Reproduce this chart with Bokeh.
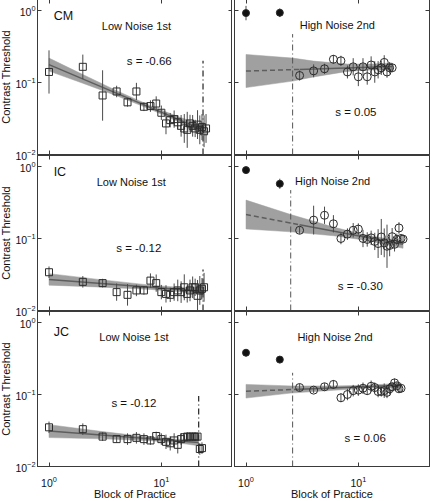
import numpy as np
from bokeh.plotting import figure
from bokeh.layouts import column, row
from bokeh.models import (ColumnDataSource, LogAxis, Range1d, Label,
                          CustomJSTickFormatter, FixedTicker, LogTickFormatter)
from bokeh.embed import file_html
from bokeh.resources import INLINE

FONT = "Liberation Sans"

# ---------------- data ----------------
X_LIM = (0.79, 43.0)
Y_LIM = (0.01, 1.42)
X_TICKS = [1, 10]
Y_TICKS = [0.01, 0.1, 1]

subjects = ["CM", "IC", "JC"]
slope_low = ["s = -0.66", "s = -0.12", "s = -0.12"]
slope_high = ["s = 0.05", "s = -0.30", "s = 0.06"]

# Low noise (first) -- squares
cm_low_block = list(range(1, 26))
cm_low_thr = [0.14, 0.165, 0.066, 0.075, 0.053, 0.075, 0.046, 0.047, 0.051, 0.038,
              0.027, 0.030, 0.031, 0.028, 0.025, 0.023, 0.022, 0.027, 0.025, 0.023,
              0.026, 0.022, 0.024, 0.021, 0.023]
cm_low_err = [0.30, 0.17, 0.35, 0.08, 0.06, 0.12, 0.06, 0.08, 0.10, 0.10,
              0.15, 0.10, 0.12, 0.10, 0.15, 0.20, 0.25, 0.12, 0.15, 0.12,
              0.20, 0.20, 0.18, 0.22, 0.20]

ic_low_block = list(range(1, 25))
ic_low_thr = [0.034, 0.025, 0.024, 0.018, 0.0165, 0.019, 0.019, 0.026, 0.024, 0.018,
              0.017, 0.0165, 0.018, 0.019, 0.018, 0.021, 0.017, 0.019, 0.021, 0.021,
              0.016, 0.019, 0.020, 0.021]
ic_low_err = [0.08, 0.08, 0.06, 0.12, 0.15, 0.08, 0.06, 0.10, 0.12, 0.10,
              0.12, 0.10, 0.12, 0.15, 0.15, 0.18, 0.12, 0.15, 0.15, 0.12,
              0.22, 0.20, 0.15, 0.20]

jc_low_block = list(range(1, 24))
jc_low_thr = [0.035, 0.033, 0.026, 0.024, 0.024, 0.025, 0.024, 0.023, 0.0265, 0.024,
              0.022, 0.021, 0.023, 0.020, 0.024, 0.0255, 0.026, 0.026, 0.026, 0.026,
              0.026, 0.0175, 0.018]
jc_low_err = [0.08, 0.08, 0.06, 0.05, 0.08, 0.08, 0.08, 0.06, 0.06, 0.08,
              0.10, 0.10, 0.10, 0.12, 0.08, 0.06, 0.06, 0.05, 0.05, 0.05,
              0.05, 0.08, 0.08]

# High noise (second) -- open circles, plus filled pre-test points
cm_high_block = list(range(3, 21))
cm_high_thr = [0.125, 0.145, 0.155, 0.21, 0.20, 0.14, 0.165, 0.12, 0.165, 0.12,
               0.175, 0.14, 0.15, 0.16, 0.19, 0.14, 0.16, 0.16]
cm_high_err = [0.07, 0.09, 0.07, 0.06, 0.07, 0.09, 0.12, 0.13, 0.12, 0.11,
               0.12, 0.15, 0.12, 0.10, 0.10, 0.08, 0.08, 0.06]

ic_high_block = list(range(3, 26))
ic_high_thr = [0.13, 0.18, 0.21, 0.16, 0.10, 0.115, 0.13, 0.135, 0.10, 0.097,
               0.102, 0.091, 0.085, 0.105, 0.087, 0.078, 0.080, 0.106, 0.083, 0.097,
               0.14, 0.10, 0.098]
ic_high_err = [0.05, 0.20, 0.12, 0.12, 0.08, 0.08, 0.10, 0.08, 0.12, 0.10,
               0.10, 0.12, 0.20, 0.25, 0.20, 0.30, 0.15, 0.12, 0.10, 0.08,
               0.08, 0.05, 0.05]

jc_high_block = list(range(3, 25))
jc_high_thr = [0.125, 0.115, 0.128, 0.138, 0.090, 0.100, 0.113, 0.115, 0.122, 0.113,
               0.130, 0.125, 0.110, 0.110, 0.113, 0.107, 0.120, 0.128, 0.145, 0.132,
               0.120, 0.122]
jc_high_err = [0.05, 0.04, 0.05, 0.06, 0.06, 0.08, 0.08, 0.08, 0.08, 0.06,
               0.08, 0.07, 0.08, 0.07, 0.10, 0.08, 0.08, 0.06, 0.06, 0.05,
               0.05, 0.05]

pre_block = [1, 2]
cm_pre_thr = [0.92, 0.93]
cm_pre_err = [0.10, 0.06]
ic_pre_thr = [0.89, 0.575]
ic_pre_err = [0.03, 0.07]
jc_pre_thr = [0.38, 0.305]
jc_pre_err = [0.05, 0.05]

# fitted power-function lines (x, y); high-noise: first segment is dashed
cm_low_fit_x = [1, 23.5]
cm_low_fit_y = [0.177, 0.022]
ic_low_fit_x = [1, 23.5]
ic_low_fit_y = [0.027, 0.0185]
jc_low_fit_x = [1, 21.5]
jc_low_fit_y = [0.031, 0.0215]
cm_high_fit_x = [1, 3, 20]
cm_high_fit_y = [0.144, 0.152, 0.167]
ic_high_fit_x = [1, 3, 25]
ic_high_fit_y = [0.215, 0.155, 0.083]
jc_high_fit_x = [1, 3, 24]
jc_high_fit_y = [0.111, 0.118, 0.134]

# confidence bands
cm_low_band_x = [1, 2, 4, 8, 14, 23.5]
cm_low_band_hi = [0.218, 0.129, 0.0769, 0.0476, 0.0337, 0.0253]
cm_low_band_lo = [0.144, 0.0976, 0.0654, 0.0424, 0.0287, 0.0192]
ic_low_band_x = [1, 3, 8, 14, 23.5]
ic_low_band_hi = [0.0325, 0.0266, 0.0225, 0.0211, 0.0208]
ic_low_band_lo = [0.0225, 0.0211, 0.0196, 0.0184, 0.0165]
jc_low_band_x = [1, 3, 8, 14, 21.5]
jc_low_band_hi = [0.0381, 0.0305, 0.0255, 0.0239, 0.0238]
jc_low_band_lo = [0.0252, 0.0242, 0.0228, 0.0213, 0.0194]
cm_high_band_x = [1, 2.6, 4, 8, 13, 20]
cm_high_band_hi = [0.245, 0.218, 0.198, 0.180, 0.180, 0.187]
cm_high_band_lo = [0.085, 0.1045, 0.1196, 0.1426, 0.1496, 0.1488]
ic_high_band_x = [1, 2.5, 6, 12, 25]
ic_high_band_hi = [0.341, 0.215, 0.144, 0.110, 0.0919]
ic_high_band_lo = [0.1357, 0.1237, 0.1092, 0.0939, 0.0730]
jc_high_band_x = [1, 2.5, 6, 12, 24]
jc_high_band_hi = [0.138, 0.1315, 0.1314, 0.1339, 0.1437]
jc_high_band_lo = [0.0892, 0.1045, 0.1144, 0.1222, 0.125]

# phase-change markers (x, top of line)
low_switch_x = [23.5, 23.5, 21.5]
low_switch_top = [0.20, 0.037, 0.095]
high_switch_x = [2.6, 2.5, 2.6]
high_switch_top = [0.47, 0.47, 0.20]

# text positions (data coords)
name_pos = [(1.1, 0.85), (1.1, 0.83), (1.1, 0.74)]
low_title_pos = [(6.0, 0.60), (5.4, 0.60), (5.7, 0.62)]
low_s_pos = [(7.8, 0.196), (6.3, 0.073), (5.7, 0.077)]
high_title_pos = [(6.5, 0.62), (5.9, 0.62), (6.2, 0.62)]
high_s_pos = [(9.5, 0.039), (10.4, 0.022), (11.5, 0.025)]

LOW = [
    (cm_low_block, cm_low_thr, cm_low_err, cm_low_fit_x, cm_low_fit_y,
     cm_low_band_x, cm_low_band_lo, cm_low_band_hi),
    (ic_low_block, ic_low_thr, ic_low_err, ic_low_fit_x, ic_low_fit_y,
     ic_low_band_x, ic_low_band_lo, ic_low_band_hi),
    (jc_low_block, jc_low_thr, jc_low_err, jc_low_fit_x, jc_low_fit_y,
     jc_low_band_x, jc_low_band_lo, jc_low_band_hi),
]
HIGH = [
    (cm_high_block, cm_high_thr, cm_high_err, cm_high_fit_x, cm_high_fit_y,
     cm_high_band_x, cm_high_band_lo, cm_high_band_hi, cm_pre_thr, cm_pre_err),
    (ic_high_block, ic_high_thr, ic_high_err, ic_high_fit_x, ic_high_fit_y,
     ic_high_band_x, ic_high_band_lo, ic_high_band_hi, ic_pre_thr, ic_pre_err),
    (jc_high_block, jc_high_thr, jc_high_err, jc_high_fit_x, jc_high_fit_y,
     jc_high_band_x, jc_high_band_lo, jc_high_band_hi, jc_pre_thr, jc_pre_err),
]

# ---------------- styling ----------------
AX = "#3a3a3a"
BAND = "#a0a0a0"
FIT = "#5e5e5e"
MARK = "#2b2b2b"
ERR = "#4a4a4a"

FRAME_W, FRAME_H = 195, 155
OVERLAP = 15   # rows overlap so tick labels at row joins are not clipped


def blank_fmt():
    return CustomJSTickFormatter(code="return '';")


def style_axis(ax, show_labels):
    ax.axis_line_color = AX
    ax.major_tick_line_color = AX
    ax.major_tick_in = 4
    ax.major_tick_out = 0
    ax.minor_tick_line_color = None
    if show_labels:
        ax.formatter = LogTickFormatter()
        ax.major_label_text_font = FONT
        ax.major_label_text_font_size = "10.5px"
        ax.major_label_text_color = "#111"
        ax.axis_label_text_font = FONT
        ax.axis_label_text_font_size = "11px"
        ax.axis_label_text_font_style = "normal"
        ax.axis_label_text_color = "#111"
    else:
        ax.formatter = blank_fmt()
        ax.major_label_text_font_size = "1px"
        ax.major_label_standoff = 0


def make_panel(r, left_col):
    bottom = (r == 2)
    p = figure(x_axis_type="log", y_axis_type="log",
               x_range=Range1d(*X_LIM), y_range=Range1d(*Y_LIM),
               frame_width=FRAME_W, frame_height=FRAME_H,
               output_backend="svg", toolbar_location=None,
               min_border_left=38 if left_col else 2,
               min_border_right=0 if left_col else 2,
               min_border_top=1 if r == 0 else 8,
               min_border_bottom=33 if bottom else 8)
    p.grid.visible = False
    p.outline_line_color = AX
    p.background_fill_color = "white"
    p.border_fill_color = None

    p.xaxis.ticker = FixedTicker(ticks=X_TICKS)
    p.yaxis.ticker = FixedTicker(ticks=Y_TICKS)
    style_axis(p.xaxis[0], bottom)
    style_axis(p.yaxis[0], left_col)
    if bottom:
        p.xaxis.axis_label = "Block of Practice"
        p.xaxis.major_label_standoff = 9
        p.xaxis.axis_label_standoff = -2
    if left_col:
        p.yaxis.axis_label = "Contrast Threshold"
        p.yaxis.major_label_standoff = 2
        p.yaxis.axis_label_standoff = 0

    top_ax = LogAxis(ticker=FixedTicker(ticks=X_TICKS))
    style_axis(top_ax, False)
    p.add_layout(top_ax, "above")
    right_ax = LogAxis(ticker=FixedTicker(ticks=Y_TICKS))
    style_axis(right_ax, False)
    p.add_layout(right_ax, "right")
    return p


def draw_points(p, blocks, thr, err, marker, size, fill):
    b = np.array(blocks, dtype=float)
    t = np.array(thr, dtype=float)
    e = np.array(err, dtype=float)
    src = ColumnDataSource(dict(x=b, y=t, lo=t / 10 ** e, hi=t * 10 ** e))
    p.segment(x0="x", y0="lo", x1="x", y1="hi", source=src,
              line_color=ERR, line_width=1)
    p.scatter(x="x", y="y", source=src, marker=marker, size=size,
              fill_color=fill, line_color=MARK, line_width=1)


def draw_band(p, bx, blo, bhi):
    xs = list(bx) + list(bx)[::-1]
    ys = list(bhi) + list(blo)[::-1]
    p.patch(xs, ys, fill_color=BAND, line_color=BAND, line_width=0.5)


def add_text(p, pos, text, size="11px", align="center"):
    p.add_layout(Label(x=pos[0], y=pos[1], text=text, text_font=FONT,
                       text_font_size=size, text_align=align,
                       text_baseline="middle", text_color="#111"))


rows = []
for r in range(3):
    # ---- low noise panel ----
    bl, th, er, fx, fy, bx, blo, bhi = LOW[r]
    pl = make_panel(r, True)
    draw_band(pl, bx, blo, bhi)
    pl.line(fx, fy, line_color=FIT, line_width=1.5)
    pl.line([low_switch_x[r], low_switch_x[r]], [Y_LIM[0], low_switch_top[r]],
            line_color="#222", line_width=1.2, line_dash="6 3 1 3")
    draw_points(pl, bl, th, er, "square", 7, None)
    add_text(pl, name_pos[r], subjects[r], size="12.5px", align="left")
    add_text(pl, low_title_pos[r], "Low Noise 1st")
    add_text(pl, low_s_pos[r], slope_low[r], size="11.5px")

    # ---- high noise panel ----
    bl, th, er, fx, fy, bx, blo, bhi, pth, per = HIGH[r]
    ph = make_panel(r, False)
    draw_band(ph, bx, blo, bhi)
    ph.line(fx[:2], fy[:2], line_color=FIT, line_width=1.5, line_dash="5 3")
    ph.line(fx[1:], fy[1:], line_color=FIT, line_width=1.5)
    ph.line([high_switch_x[r], high_switch_x[r]], [Y_LIM[0], high_switch_top[r]],
            line_color="#555", line_width=1, line_dash="6 3 1 3")
    draw_points(ph, bl, th, er, "circle", 8, None)
    draw_points(ph, pre_block, pth, per, "circle", 7, "#111")
    add_text(ph, high_title_pos[r], "High Noise 2nd")
    add_text(ph, high_s_pos[r], slope_high[r], size="11.5px")

    rw = row(pl, ph, spacing=0)
    if r > 0:
        rw.styles = {"margin-top": f"-{OVERLAP}px"}
    rows.append(rw)

layout = column(*rows, spacing=0)
layout.styles = {"margin": "-2px -16px -16px -3px", "background-color": "white"}

open("out.html", "w").write(file_html(layout, INLINE))
